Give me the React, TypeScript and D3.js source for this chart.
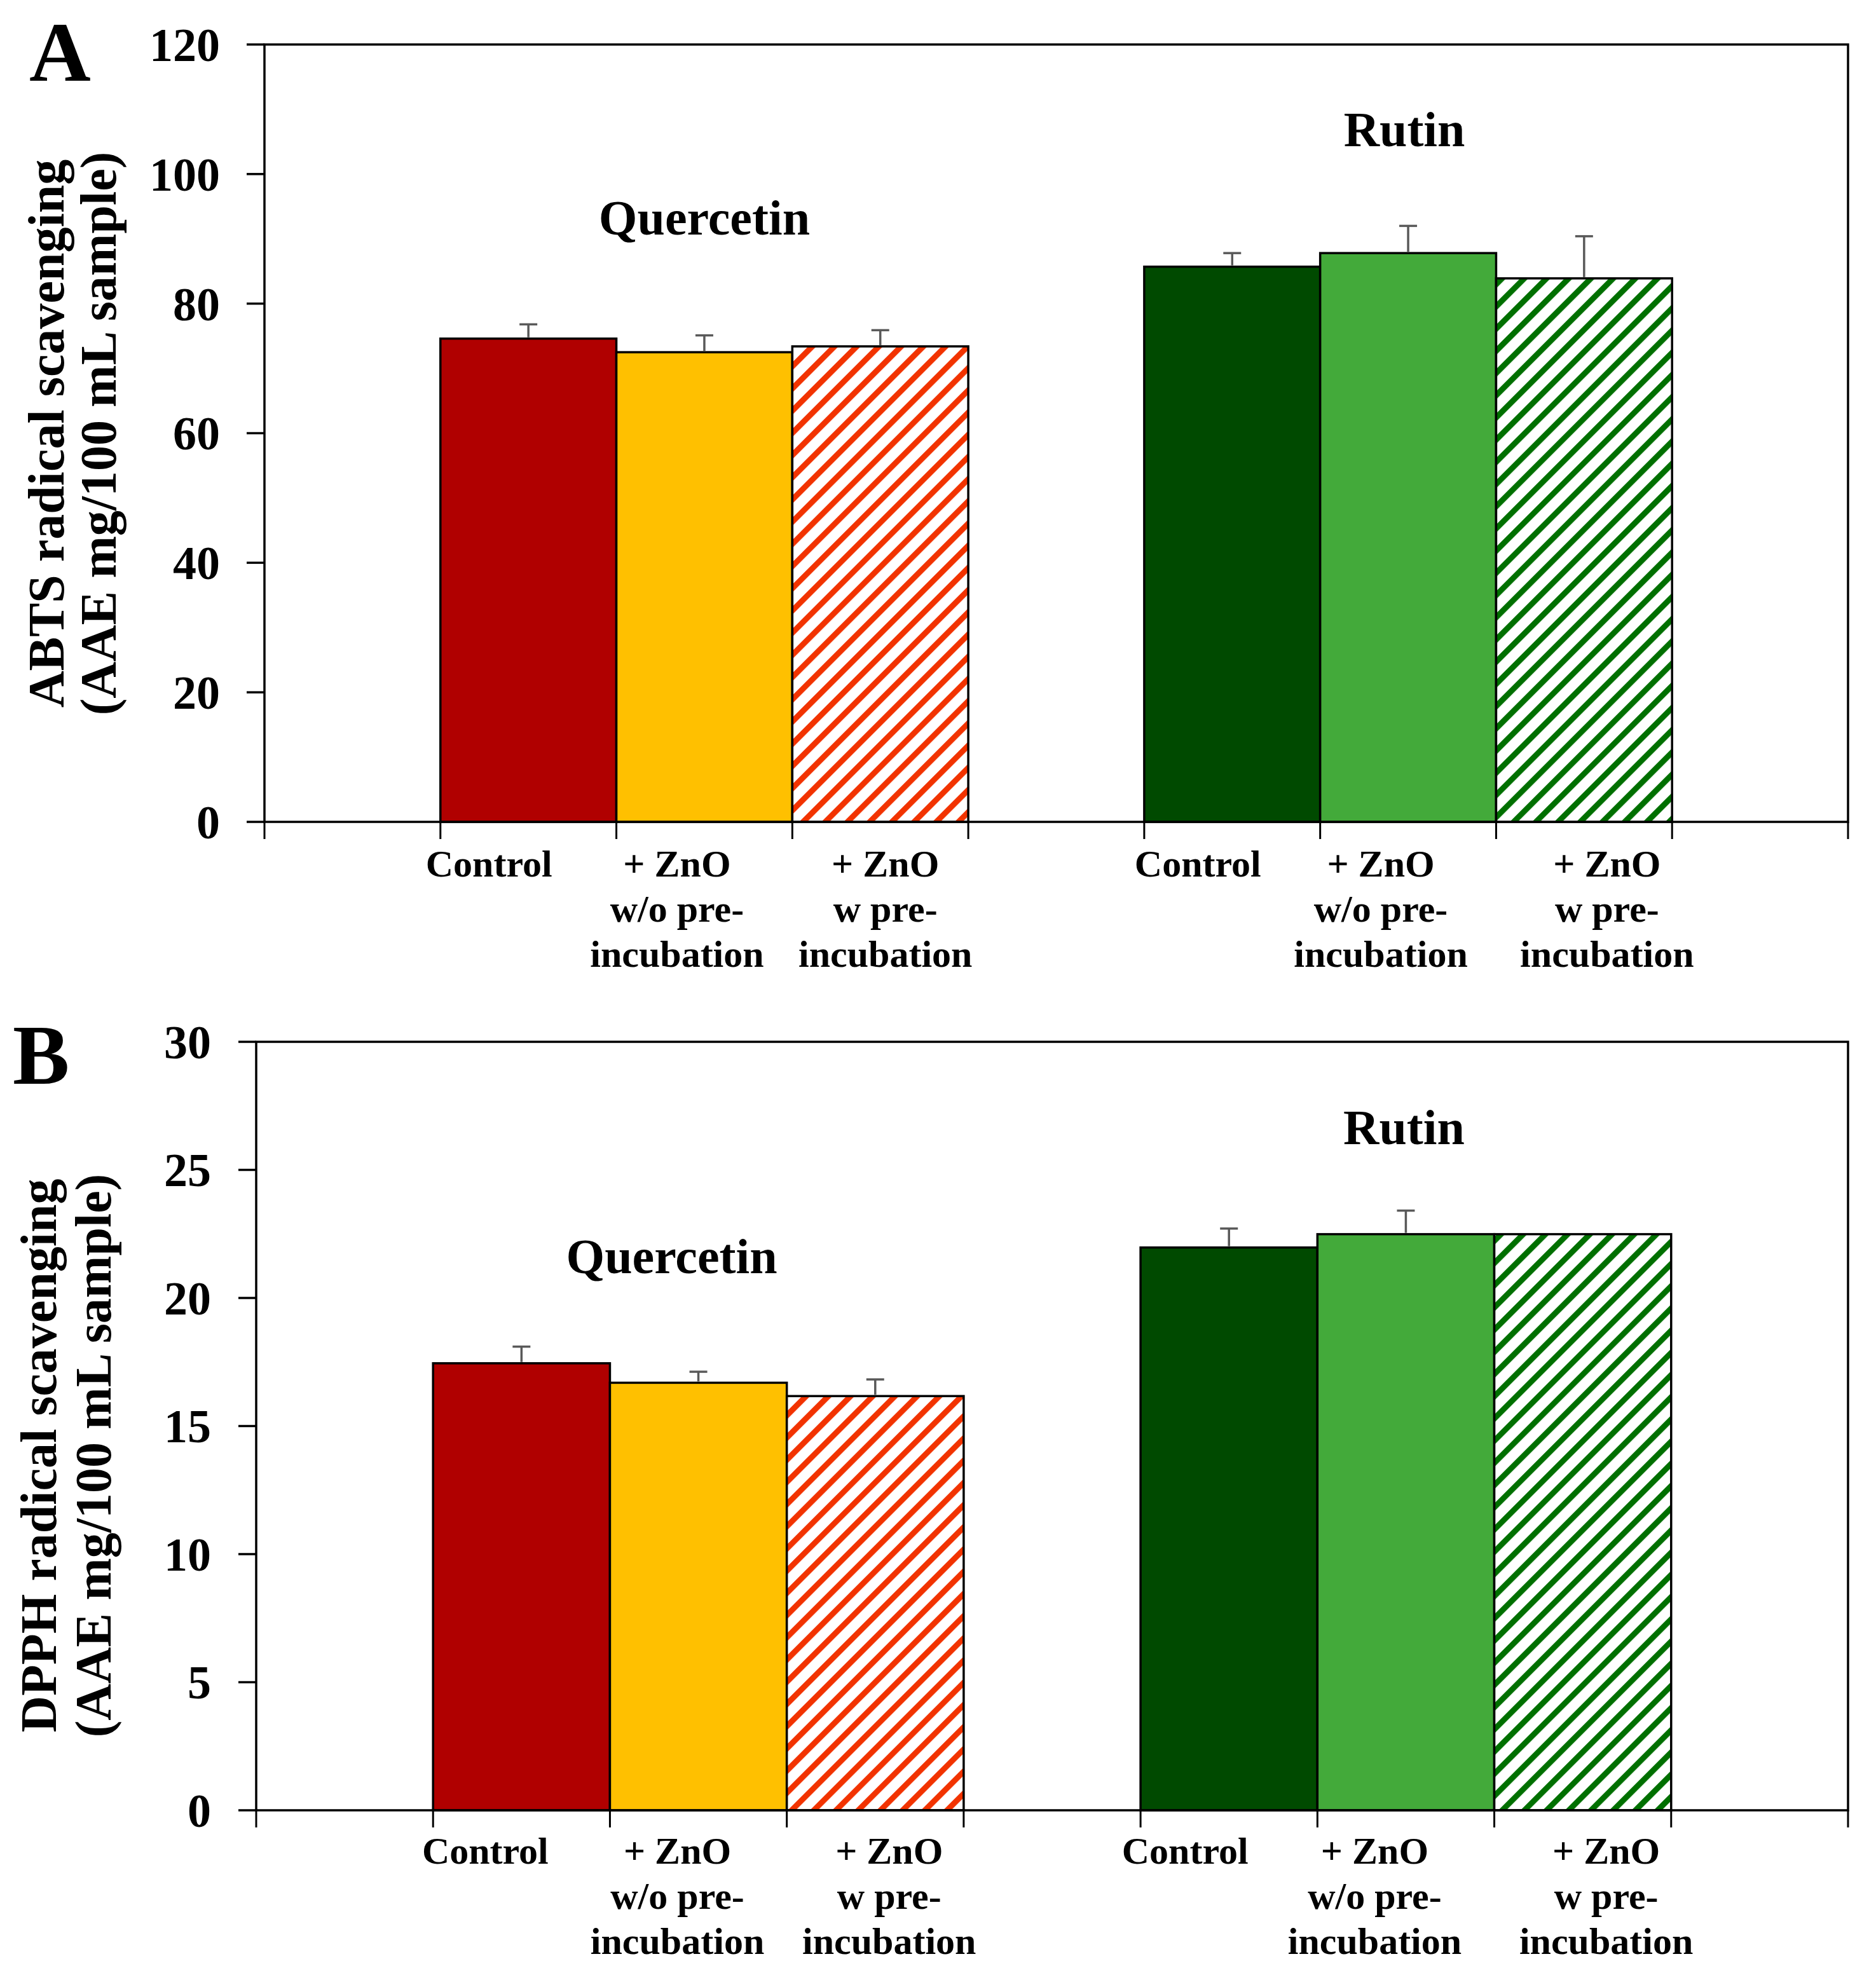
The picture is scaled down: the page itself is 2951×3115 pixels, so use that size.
import { useEffect, useRef } from "react";
import * as d3 from "d3";

// categories
const GROUPS = ["Quercetin", "Rutin"];
const TREATMENT_LINES = [
  ["Control"],
  ["+ ZnO", "w/o pre-", "incubation"],
  ["+ ZnO", "w pre-", "incubation"],
];
const TREATMENTS = TREATMENT_LINES.map((l) => l.join(" "));

// panel A: ABTS (AAE mg/100 mL sample)
const ABTS_QUERCETIN = [74.6, 72.5, 73.4];
const ABTS_QUERCETIN_SD = [2.2, 2.6, 2.5];
const ABTS_RUTIN = [85.7, 87.8, 83.9];
const ABTS_RUTIN_SD = [2.1, 4.2, 6.5];
const ABTS_TICKS = [0, 20, 40, 60, 80, 100, 120];

// panel B: DPPH (AAE mg/100 mL sample)
const DPPH_QUERCETIN = [17.45, 16.69, 16.17];
const DPPH_QUERCETIN_SD = [0.65, 0.43, 0.65];
const DPPH_RUTIN = [21.97, 22.49, 22.49];
const DPPH_RUTIN_SD = [0.74, 0.92, 0];
const DPPH_TICKS = [0, 5, 10, 15, 20, 25, 30];

// empty slot before, between and after the groups (as in the original sheet)
const SLOTS = [
  "pad-start",
  ...GROUPS.flatMap((g, gi) => [
    ...TREATMENTS.map((t) => `${g}|${t}`),
    gi < GROUPS.length - 1 ? "gap" : "pad-end",
  ]),
];

const FILLS = [
  ["#b00000", "#ffc000", "url(#hatch-red)"],
  ["#004a00", "#43aa3a", "url(#hatch-green)"],
];

const FONT = "'Liberation Serif', 'Times New Roman', serif";

type Panel = {
  letter: string;
  title: string[];
  means: number[][];
  sds: number[][];
  ticks: number[];
  frame: { l: number; r: number; t: number; b: number };
  tickLabelX: number;
  titleX: number[];
  titleY: number;
  letterX: number;
  letterY: number;
  groupLabels: { dx: number; y: number }[];
  labelDx: number[][];
  labelY: number;
};

const PANELS: Panel[] = [
  {
    letter: "A",
    title: ["ABTS radical scavenging", "(AAE mg/100 mL sample)"],
    means: [ABTS_QUERCETIN, ABTS_RUTIN],
    sds: [ABTS_QUERCETIN_SD, ABTS_RUTIN_SD],
    ticks: ABTS_TICKS,
    frame: { l: 416, r: 2907, t: 70, b: 1293 },
    tickLabelX: 346,
    titleX: [100, 182],
    titleY: 682,
    letterX: 46,
    letterY: 127,
    groupLabels: [
      { dx: 0, y: 369 },
      { dx: -6, y: 230 },
    ],
    labelDx: [
      [-62, -43, 8],
      [-54, -43, 36],
    ],
    labelY: 1379,
  },
  {
    letter: "B",
    title: ["DPPH radical scavenging", "(AAE mg/100 mL sample)"],
    means: [DPPH_QUERCETIN, DPPH_RUTIN],
    sds: [DPPH_QUERCETIN_SD, DPPH_RUTIN_SD],
    ticks: DPPH_TICKS,
    frame: { l: 403, r: 2907, t: 1639, b: 2848 },
    tickLabelX: 332,
    titleX: [88, 174],
    titleY: 2290,
    letterX: 20,
    letterY: 1705,
    groupLabels: [
      { dx: -42, y: 2003 },
      { dx: -3, y: 1800 },
    ],
    labelDx: [
      [-57, -33, 22],
      [-69, -49, 37],
    ],
    labelY: 2932,
  },
];

function drawPanel(svg: d3.Selection<SVGSVGElement, unknown, null, undefined>, p: Panel) {
  const g = svg.append("g");
  const { l, r, t, b } = p.frame;
  const y = d3.scaleLinear().domain([0, d3.max(p.ticks)!]).range([b, t]);
  const x = d3.scaleBand().domain(SLOTS).range([l, r]).padding(0);
  const bw = x.bandwidth();

  const bars = GROUPS.flatMap((grp, gi) =>
    TREATMENTS.map((tr, ti) => ({
      key: `${grp}|${tr}`,
      gi,
      ti,
      v: p.means[gi][ti],
      sd: p.sds[gi][ti],
    }))
  );

  g.selectAll("rect.bar")
    .data(bars)
    .enter()
    .append("rect")
    .attr("class", "bar")
    .attr("x", (d) => x(d.key)!)
    .attr("width", bw)
    .attr("y", (d) => y(d.v))
    .attr("height", (d) => y(0) - y(d.v))
    .attr("fill", (d) => FILLS[d.gi][d.ti])
    .attr("stroke", "#000")
    .attr("stroke-width", 3.5);

  // error bars (upper only)
  const err = g
    .selectAll("g.err")
    .data(bars.filter((d) => d.sd > 0))
    .enter()
    .append("g")
    .attr("stroke", "#595959")
    .attr("stroke-width", 3.5);
  err
    .append("line")
    .attr("x1", (d) => x(d.key)! + bw / 2)
    .attr("x2", (d) => x(d.key)! + bw / 2)
    .attr("y1", (d) => y(d.v) - 2)
    .attr("y2", (d) => y(d.v + d.sd));
  err
    .append("line")
    .attr("x1", (d) => x(d.key)! + bw / 2 - 14)
    .attr("x2", (d) => x(d.key)! + bw / 2 + 14)
    .attr("y1", (d) => y(d.v + d.sd))
    .attr("y2", (d) => y(d.v + d.sd));

  // frame
  g.append("rect")
    .attr("x", l)
    .attr("y", t)
    .attr("width", r - l)
    .attr("height", b - t)
    .attr("fill", "none")
    .attr("stroke", "#000")
    .attr("stroke-width", 3.5);

  // y ticks
  g.selectAll("line.yt")
    .data(p.ticks)
    .enter()
    .append("line")
    .attr("x1", l - 28)
    .attr("x2", l)
    .attr("y1", (d) => y(d))
    .attr("y2", (d) => y(d))
    .attr("stroke", "#000")
    .attr("stroke-width", 3.5);

  g.selectAll("text.yt")
    .data(p.ticks)
    .enter()
    .append("text")
    .attr("x", p.tickLabelX)
    .attr("y", (d) => y(d))
    .attr("dy", "0.35em")
    .attr("text-anchor", "end")
    .attr("font-family", FONT)
    .attr("font-weight", "bold")
    .attr("font-size", 74)
    .text((d) => d);

  // x ticks at slot boundaries
  const bounds = [...SLOTS.map((s) => x(s)!), r];
  g.selectAll("line.xt")
    .data(bounds)
    .enter()
    .append("line")
    .attr("x1", (d) => d)
    .attr("x2", (d) => d)
    .attr("y1", b)
    .attr("y2", b + 27)
    .attr("stroke", "#000")
    .attr("stroke-width", 3);

  // category labels
  bars.forEach((d) => {
    const cx = x(d.key)! + bw / 2 + p.labelDx[d.gi][d.ti];
    const txt = g
      .append("text")
      .attr("text-anchor", "middle")
      .attr("font-family", FONT)
      .attr("font-weight", "bold")
      .attr("font-size", 60);
    TREATMENT_LINES[d.ti].forEach((line, li) => {
      txt
        .append("tspan")
        .attr("x", cx)
        .attr("y", p.labelY + li * 71)
        .text(line);
    });
  });

  // group labels
  GROUPS.forEach((grp, gi) => {
    const first = x(`${grp}|${TREATMENTS[0]}`)!;
    const last = x(`${grp}|${TREATMENTS[TREATMENTS.length - 1]}`)! + bw;
    g.append("text")
      .attr("x", (first + last) / 2 + p.groupLabels[gi].dx)
      .attr("y", p.groupLabels[gi].y)
      .attr("text-anchor", "middle")
      .attr("font-family", FONT)
      .attr("font-weight", "bold")
      .attr("font-size", 78)
      .text(grp);
  });

  // y title
  p.title.forEach((line, i) => {
    g.append("text")
      .attr("transform", `translate(${p.titleX[i]},${p.titleY}) rotate(-90)`)
      .attr("text-anchor", "middle")
      .attr("font-family", FONT)
      .attr("font-weight", "bold")
      .attr("font-size", 80)
      .text(line);
  });

  // panel letter
  g.append("text")
    .attr("x", p.letterX)
    .attr("y", p.letterY)
    .attr("font-family", FONT)
    .attr("font-weight", "bold")
    .attr("font-size", 134)
    .text(p.letter);
}

export default function App() {
  const ref = useRef<SVGSVGElement>(null);

  useEffect(() => {
    if (!ref.current) return;
    const svg = d3.select(ref.current);
    svg.selectAll("*").remove();

    const defs = svg.append("defs");
    [
      ["hatch-red", "#f23300"],
      ["hatch-green", "#007000"],
    ].forEach(([id, color]) => {
      const pat = defs
        .append("pattern")
        .attr("id", id)
        .attr("patternUnits", "userSpaceOnUse")
        .attr("width", 24.7)
        .attr("height", 24.7)
        .attr("patternTransform", "rotate(45)");
      pat.append("rect").attr("width", 24.7).attr("height", 24.7).attr("fill", "#fff");
      pat.append("rect").attr("width", 9).attr("height", 24.7).attr("fill", color);
    });

    PANELS.forEach((p) => drawPanel(svg, p));
  }, []);

  return (
    <svg
      ref={ref}
      width={2951}
      height={3115}
      style={{ position: "absolute", left: 0, top: 0, background: "#fff" }}
    />
  );
}
